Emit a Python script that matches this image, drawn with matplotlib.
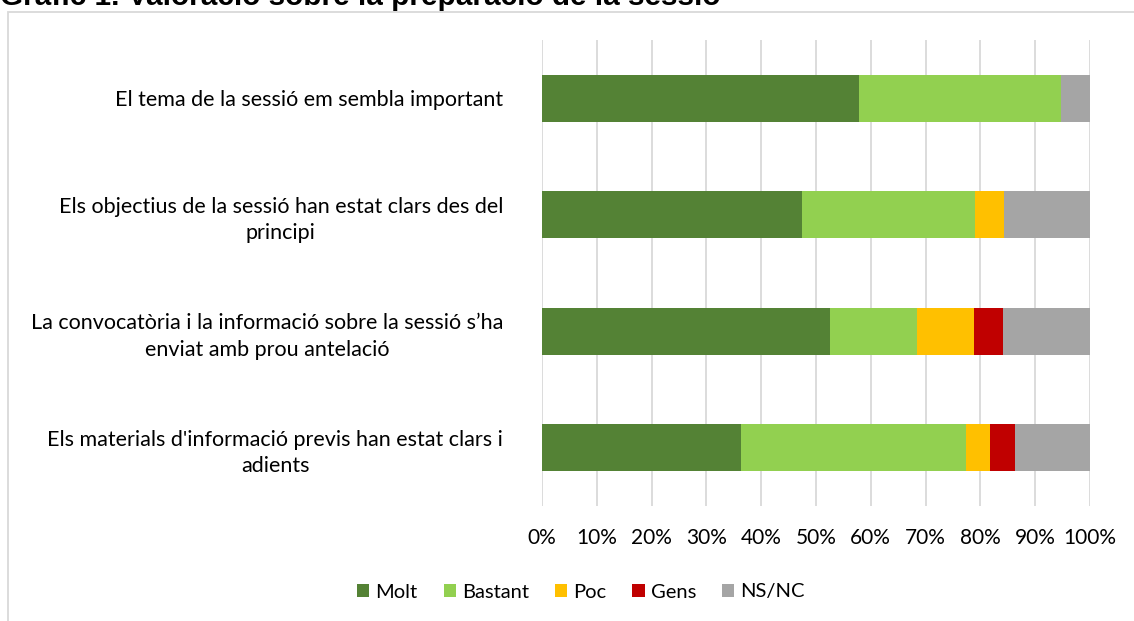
import matplotlib
matplotlib.use("Agg")
import matplotlib.pyplot as plt
from matplotlib.patches import Rectangle, Patch
import numpy as np

title = "Gràfic 1. Valoració sobre la preparació de la sessió"
categories = [
    "El tema de la sessió em sembla important",
    "Els objectius de la sessió han estat clars des del\nprincipi",
    "La convocatòria i la informació sobre la sessió s\u2019ha\nenviat amb prou antelació",
    "Els materials d'informació previs han estat clars i\nadients",
]
series_names = ["Molt", "Bastant", "Poc", "Gens", "NS/NC"]
molt    = [57.9, 47.4, 52.6, 36.4]
bastant = [36.8, 31.6, 15.8, 40.9]
poc     = [0.0, 5.3, 10.5, 4.5]
gens    = [0.0, 0.0, 5.3, 4.5]
nsnc    = [5.3, 15.7, 15.8, 13.7]
colors = ["#548235", "#92D050", "#FFC000", "#C00000", "#A5A5A5"]
xticks = [0, 10, 20, 30, 40, 50, 60, 70, 80, 90, 100]
xticklabels = [f"{v}%" for v in xticks]

W, H = 1134, 621
fig = plt.figure(figsize=(W / 100, H / 100), dpi=100)
fig.patch.set_facecolor("white")

# chart border (extends beyond the figure on right/bottom)
fig.patches.append(Rectangle((8 / W, -0.2), 1.2, 1 - 12 / H + 0.2, transform=fig.transFigure,
                             fill=False, edgecolor="#D9D9D9", linewidth=1.3, zorder=0))

# title, partly cut off at the top as in the reference
fig.text(0.0, 1 - 5 / H, title, ha="left", va="baseline", fontsize=21.4,
         fontweight="bold", family="Liberation Sans", color="#000000")

ax = fig.add_axes([542 / W, (H - 506) / H, (1090 - 542) / W, (506 - 40) / H])
y = np.arange(len(categories))
data = [molt, bastant, poc, gens, nsnc]
left = np.zeros(len(categories))
handles = []
for name, vals, c in zip(series_names, data, colors):
    vals = np.array(vals)
    ax.barh(y, vals, left=left, height=0.4, color=c, zorder=3, label=name)
    left += vals
    handles.append(Patch(facecolor=c, label=name))

ax.set_xlim(0, 100)
ax.set_ylim(len(categories) - 0.5, -0.5)
ax.set_xticks(xticks)
ax.set_xticklabels(xticklabels, family="Lato", fontsize=15, color="#000000")
ax.set_yticks(y)
ax.set_yticklabels(categories, family="Lato", fontsize=15.5, color="#000000",
                   multialignment="center", linespacing=1.4)
ax.tick_params(axis="x", length=0, pad=16)
ax.tick_params(axis="y", length=0, pad=28)
ax.grid(axis="x", color="#D9D9D9", linewidth=1.3, zorder=0)
ax.set_axisbelow(True)
for s in ax.spines.values():
    s.set_visible(False)

fig.legend(handles=handles, loc="center", bbox_to_anchor=(581 / W, 1 - 592 / H),
           ncol=5, frameon=False, prop={"family": "Lato", "size": 14.5},
           handlelength=0.6, handleheight=0.6, handletextpad=0.3, columnspacing=1.3)

fig.savefig("out.png", dpi=100, facecolor="white")
